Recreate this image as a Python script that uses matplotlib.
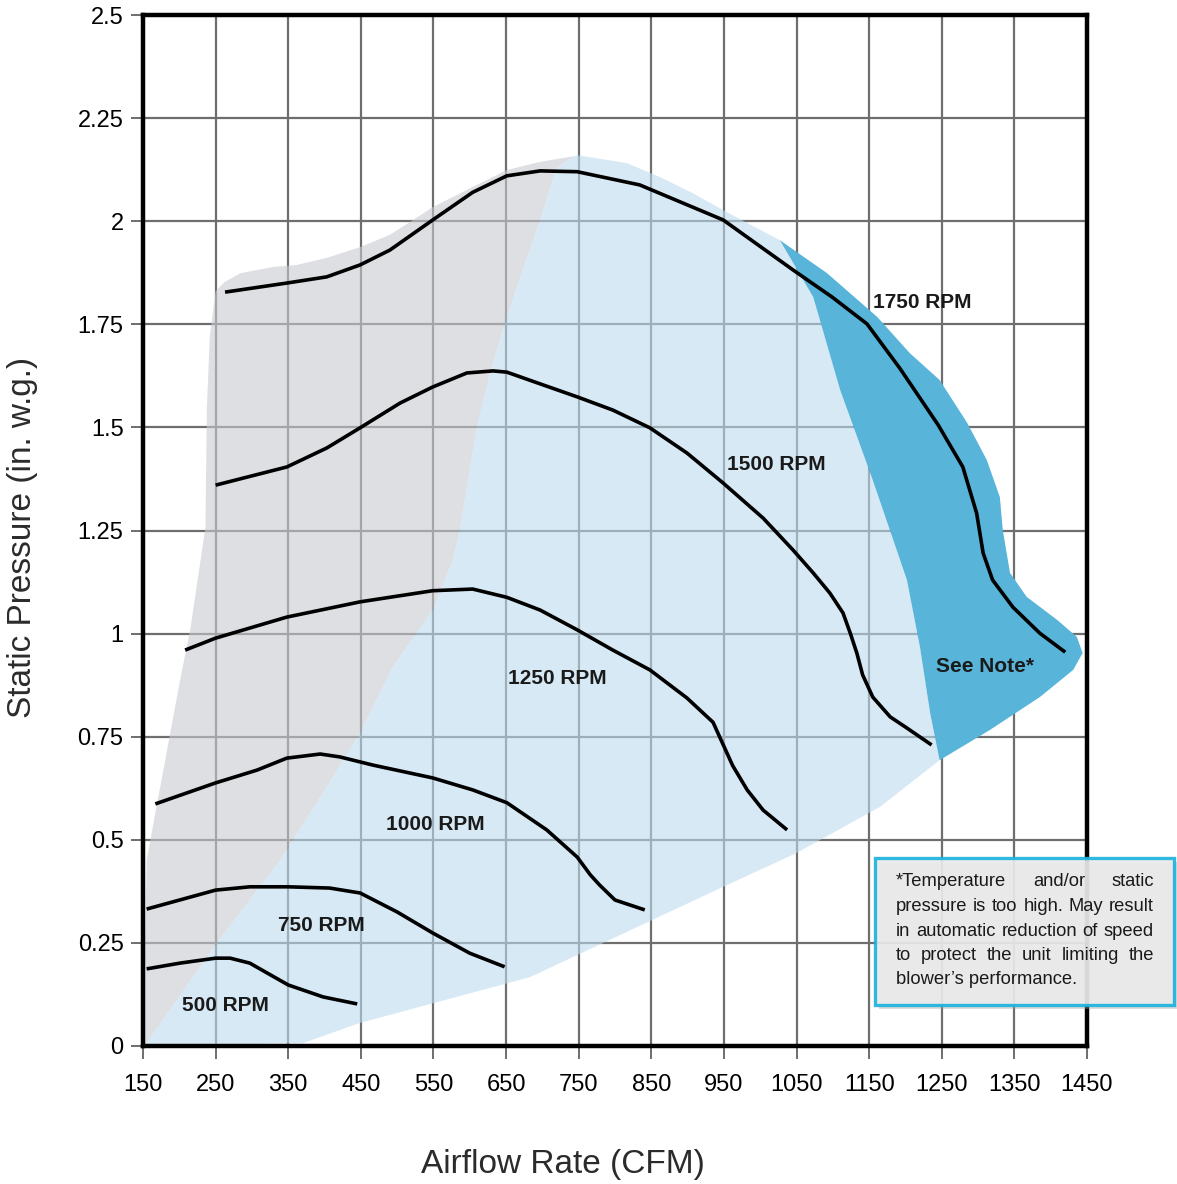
import matplotlib
matplotlib.use("Agg")
import matplotlib.pyplot as plt
from matplotlib.patches import Rectangle

plt.rcParams['font.family'] = ['Liberation Sans', 'DejaVu Sans']

# Fan curves (CFM, static pressure in. w.g.)
rpm500_cfm = [155, 201, 250, 270, 297, 350, 398, 445]
rpm500_p = [0.187, 0.201, 0.213, 0.213, 0.201, 0.148, 0.119, 0.102]

rpm750_cfm = [155, 250, 297, 350, 407, 449, 500, 549, 600, 648]
rpm750_p = [0.332, 0.378, 0.386, 0.386, 0.383, 0.371, 0.325, 0.274, 0.225, 0.192]

rpm1000_cfm = [167, 250, 307, 348, 394, 421, 467, 549, 604, 651, 706, 748, 766, 779, 800, 841]
rpm1000_p = [0.587, 0.638, 0.669, 0.698, 0.708, 0.701, 0.681, 0.650, 0.621, 0.590, 0.524, 0.458, 0.415, 0.390, 0.354, 0.330]

rpm1250_cfm = [208, 250, 348, 449, 549, 604, 651, 697, 748, 797, 848, 899, 935, 962, 982, 1004, 1037]
rpm1250_p = [0.960, 0.989, 1.040, 1.077, 1.104, 1.108, 1.088, 1.057, 1.009, 0.960, 0.912, 0.844, 0.785, 0.680, 0.621, 0.572, 0.524]

rpm1500_cfm = [250, 348, 403, 449, 504, 549, 596, 632, 651, 701, 748, 797, 848, 899, 949, 1004, 1045,
               1073, 1096, 1114, 1124, 1133, 1141, 1155, 1179, 1202, 1236]
rpm1500_p = [1.360, 1.404, 1.450, 1.499, 1.559, 1.598, 1.632, 1.637, 1.634, 1.603, 1.574, 1.542, 1.499, 1.438, 1.365, 1.280, 1.203,
             1.147, 1.098, 1.050, 1.001, 0.953, 0.900, 0.846, 0.798, 0.771, 0.730]

rpm1750_cfm = [263, 348, 403, 449, 490, 549, 604, 651, 697, 748, 834, 949, 1045, 1099, 1147, 1192, 1245, 1279,
               1298, 1307, 1320, 1348, 1385, 1420]
rpm1750_p = [1.828, 1.850, 1.865, 1.894, 1.930, 2.003, 2.070, 2.110, 2.122, 2.120, 2.088, 2.003, 1.882, 1.816, 1.751, 1.644, 1.506, 1.404,
             1.292, 1.195, 1.130, 1.064, 1.001, 0.955]

curves = [
    (rpm500_cfm, rpm500_p, "500 RPM", 264, 0.097),
    (rpm750_cfm, rpm750_p, "750 RPM", 395, 0.291),
    (rpm1000_cfm, rpm1000_p, "1000 RPM", 553, 0.538),
    (rpm1250_cfm, rpm1250_p, "1250 RPM", 720, 0.892),
    (rpm1500_cfm, rpm1500_p, "1500 RPM", 1022, 1.411),
    (rpm1750_cfm, rpm1750_p, "1750 RPM", 1223, 1.804),
]

# Operating regions
gray_left_cfm = [150, 155, 201, 215, 236, 238, 242, 250]
gray_left_p = [0.0, 0.451, 0.887, 1.009, 1.258, 1.549, 1.720, 1.830]
gray_top_cfm = [262, 284, 329, 362, 403, 449, 490, 522, 549, 604, 651, 697, 745]
gray_top_p = [1.852, 1.874, 1.889, 1.894, 1.911, 1.937, 1.967, 2.003, 2.034, 2.083, 2.124, 2.144, 2.158]
# border between gray and light blue, top to bottom
split_cfm = [745, 720, 697, 651, 628, 610, 587, 577, 549, 494, 449, 403, 339, 252, 155]
split_p = [2.158, 2.131, 2.003, 1.768, 1.632, 1.501, 1.258, 1.178, 1.057, 0.919, 0.759, 0.628, 0.451, 0.250, 0.007]

blue_top_cfm = [748, 816, 862, 907, 954, 1000, 1027]
blue_top_p = [2.160, 2.141, 2.107, 2.068, 2.022, 1.979, 1.954]
# inner edge of the "see note" zone, top to bottom
note_in_cfm = [1027, 1073, 1110, 1155, 1202, 1220, 1234, 1247]
note_in_p = [1.954, 1.816, 1.591, 1.372, 1.130, 0.967, 0.807, 0.693]
blue_bot_cfm = [1247, 1165, 1050, 949, 683, 449, 370, 150]
blue_bot_p = [0.693, 0.580, 0.468, 0.386, 0.167, 0.056, 0.007, 0.0]
# outer edge of the "see note" zone, top to bottom
note_out_cfm = [1027, 1092, 1161, 1206, 1247, 1285, 1312, 1330, 1334, 1344, 1367, 1409, 1436, 1444, 1431, 1385, 1316, 1247]
note_out_p = [1.954, 1.874, 1.768, 1.680, 1.615, 1.511, 1.421, 1.331, 1.251, 1.147, 1.089, 1.033, 0.992, 0.953, 0.912, 0.846, 0.766, 0.693]

x_ticks = list(range(150, 1451, 100))
y_ticks = [0, 0.25, 0.5, 0.75, 1, 1.25, 1.5, 1.75, 2, 2.25, 2.5]
y_labels = ["0", "0.25", "0.5", "0.75", "1", "1.25", "1.5", "1.75", "2", "2.25", "2.5"]

note_lines = [
    "*Temperature and/or static",
    "pressure is too high. May result",
    "in automatic reduction of speed",
    "to protect the unit limiting the",
    "blower\u2019s performance.",
]

W, H = 1177, 1184
fig = plt.figure(figsize=(W / 100, H / 100), dpi=100)
ax = fig.add_axes([143 / W, 1 - 1046 / H, (1087 - 143) / W, (1046 - 15) / H])

# regions
gray_cfm = gray_left_cfm + gray_top_cfm + split_cfm
gray_p = gray_left_p + gray_top_p + split_p
ax.fill(gray_cfm, gray_p, color="#c9cbd1", alpha=0.6, lw=0, zorder=1)

blue_cfm = split_cfm[::-1] + blue_top_cfm + note_in_cfm + blue_bot_cfm
blue_p = split_p[::-1] + blue_top_p + note_in_p + blue_bot_p
ax.fill(blue_cfm, blue_p, color="#bddbed", alpha=0.6, lw=0, zorder=1)

dark_cfm = note_out_cfm + note_in_cfm[::-1]
dark_p = note_out_p + note_in_p[::-1]
ax.fill(dark_cfm, dark_p, color="#58b4d9", lw=0, zorder=2)

for cfm, p, name, lx, ly in curves:
    ax.plot(cfm, p, color="black", lw=2.6, solid_capstyle="butt",
            solid_joinstyle="round", zorder=3)
    ax.text(lx, ly, name, fontsize=15, fontweight="bold", color="#1a1a1a",
            ha="center", va="center", zorder=4)

ax.text(1309, 0.921, "See Note*", fontsize=15, fontweight="bold", color="#1a1a1a",
        ha="center", va="center", zorder=4)

ax.set_xlim(150, 1450)
ax.set_ylim(0, 2.5)
ax.set_xticks(x_ticks)
ax.set_yticks(y_ticks)
ax.set_yticklabels(y_labels)
ax.grid(True, color="#6e6e6e", lw=1.6)
ax.set_axisbelow(True)
ax.tick_params(length=9, width=1.4, color="#6e6e6e", labelsize=17, pad=5)
ax.tick_params(axis="x", pad=11)
for s in ax.spines.values():
    s.set_linewidth(3.2)
    s.set_color("black")
    s.set_zorder(5)

fig.text(23 / W, 1 - 537 / H, "Static Pressure (in. w.g.)", rotation=90,
         fontsize=24, color="#2b2b2b", ha="center", va="center")
fig.text(563 / W, 1 - 1164 / H, "Airflow Rate (CFM)",
         fontsize=24, color="#2b2b2b", ha="center", va="center")

# note box with a small shadow
fig.add_artist(Rectangle((879 / W, 1 - 1009 / H), 301 / W, 147 / H,
                         transform=fig.transFigure, color="#9a9a9a", alpha=0.35, lw=0))
fig.add_artist(Rectangle((875 / W, 1 - 1005 / H), 299 / W, 147 / H,
                         transform=fig.transFigure, facecolor="#ebebeb", alpha=0.9,
                         edgecolor="#1ab2dd", lw=2.4))

# justified note text
renderer = fig.canvas.get_renderer()
x0, x1 = 896, 1154
for i, line in enumerate(note_lines):
    y = 1 - (882 + i * 24.5) / H
    if i == len(note_lines) - 1:
        fig.text(x0 / W, y, line, fontsize=13.2, color="#1a1a1a", va="center")
        continue
    words = line.split()
    objs = [fig.text(0, y, w, fontsize=13.2, color="#1a1a1a", va="center") for w in words]
    widths = [o.get_window_extent(renderer).width for o in objs]
    gap = (x1 - x0 - sum(widths)) / (len(words) - 1)
    x = x0
    for o, w in zip(objs, widths):
        o.set_x(x / W)
        x += w + gap

fig.savefig("out.png", dpi=100)
